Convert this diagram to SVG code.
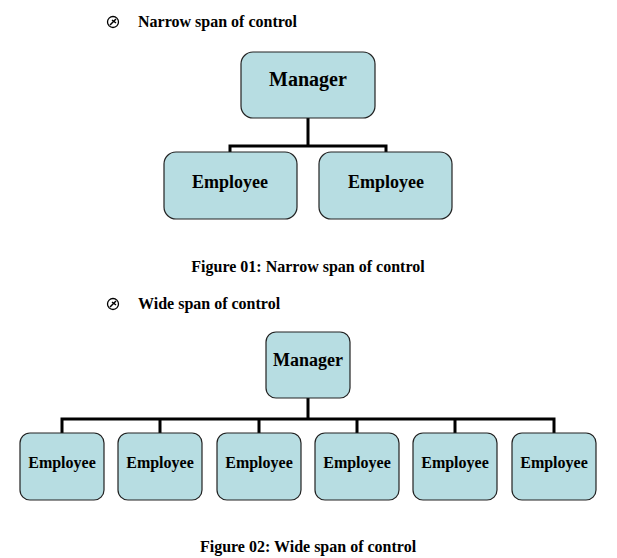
<svg xmlns="http://www.w3.org/2000/svg" width="617" height="558" viewBox="0 0 617 558" font-family="'Liberation Serif', 'Times New Roman', 'DejaVu Serif', serif">
<style>
.n{fill:#b7dde2;stroke:#222;stroke-width:1.2}
.t{font-family:'Liberation Serif','Times New Roman',serif;font-weight:bold;fill:#000;text-anchor:middle}
.h{font-family:'Liberation Serif','Times New Roman',serif;font-weight:bold;font-size:16px;fill:#000}
.c{fill:none;stroke:#000;stroke-width:3}
</style>
<rect width="617" height="558" fill="#fff"/>
<g id="bullet1"><circle cx="113" cy="22" r="5.5" fill="#fff" stroke="#000" stroke-width="1.3"/><path d="M110 25 L116 19 M112 20 L116 23" stroke="#000" stroke-width="1.5"/></g>
<text class="h" x="138" y="27">Narrow span of control</text>
<g id="connectors1">
<path class="c" d="M308 118 V146 M230 152 V146 H386 V152"/>
</g>
<g id="manager1"><rect class="n" x="241" y="52" width="134" height="66" rx="12"/><text class="t" x="308" y="86" font-size="20">Manager</text></g>
<g id="emp1a"><rect class="n" x="164" y="152" width="133" height="67" rx="12"/><text class="t" x="230" y="188" font-size="18">Employee</text></g>
<g id="emp1b"><rect class="n" x="319" y="152" width="133" height="67" rx="12"/><text class="t" x="386" y="188" font-size="18">Employee</text></g>
<text class="h" x="308" y="272" text-anchor="middle">Figure 01: Narrow span of control</text>
<g id="bullet2"><circle cx="113" cy="304" r="5.5" fill="#fff" stroke="#000" stroke-width="1.3"/><path d="M110 307 L116 301 M112 302 L116 305" stroke="#000" stroke-width="1.5"/></g>
<text class="h" x="138" y="309">Wide span of control</text>
<g id="connectors2">
<path class="c" d="M308 398 V419 M62 433 V419 H554 V433 M160 419 V433 M259 419 V433 M357 419 V433 M455 419 V433"/>
</g>
<g id="manager2"><rect class="n" x="266" y="332" width="84" height="66" rx="10"/><text class="t" x="308" y="366" font-size="18">Manager</text></g>
<g id="emp2a"><rect class="n" x="20" y="433" width="84" height="67" rx="10"/><text class="t" x="62" y="468" font-size="16">Employee</text></g>
<g id="emp2b"><rect class="n" x="118" y="433" width="84" height="67" rx="10"/><text class="t" x="160" y="468" font-size="16">Employee</text></g>
<g id="emp2c"><rect class="n" x="217" y="433" width="84" height="67" rx="10"/><text class="t" x="259" y="468" font-size="16">Employee</text></g>
<g id="emp2d"><rect class="n" x="315" y="433" width="84" height="67" rx="10"/><text class="t" x="357" y="468" font-size="16">Employee</text></g>
<g id="emp2e"><rect class="n" x="413" y="433" width="84" height="67" rx="10"/><text class="t" x="455" y="468" font-size="16">Employee</text></g>
<g id="emp2f"><rect class="n" x="512" y="433" width="84" height="67" rx="10"/><text class="t" x="554" y="468" font-size="16">Employee</text></g>
<text class="h" x="308" y="552" text-anchor="middle">Figure 02: Wide span of control</text>
</svg>
